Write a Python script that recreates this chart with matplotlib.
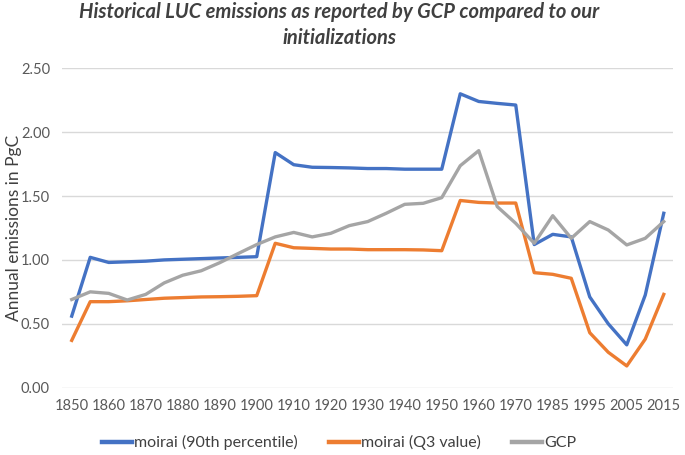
import matplotlib
matplotlib.use("Agg")
import matplotlib.pyplot as plt

# categories (one point every 5 years, one period missing in the source)
years = [1850, 1855, 1860, 1865, 1870, 1875, 1880, 1885, 1890, 1895,
         1900, 1905, 1910, 1915, 1920, 1925, 1930, 1935, 1940, 1945,
         1950, 1955, 1960, 1965, 1970, 1975, 1985, 1990, 1995, 2000,
         2005, 2010, 2015]

moirai_p90 = [0.56, 1.02, 0.98, 0.985, 0.99, 1.00, 1.005, 1.01, 1.015, 1.02,
              1.025, 1.84, 1.745, 1.725, 1.723, 1.72, 1.715, 1.715, 1.71, 1.71,
              1.71, 2.30, 2.24, 2.225, 2.212, 1.12, 1.20, 1.18, 0.71, 0.50,
              0.335, 0.725, 1.365]

moirai_q3 = [0.37, 0.673, 0.673, 0.68, 0.69, 0.70, 0.705, 0.71, 0.712, 0.715,
             0.72, 1.13, 1.095, 1.09, 1.085, 1.085, 1.08, 1.08, 1.08, 1.078,
             1.072, 1.465, 1.45, 1.445, 1.445, 0.90, 0.887, 0.856, 0.43, 0.277,
             0.17, 0.38, 0.73]

gcp = [0.69, 0.75, 0.738, 0.686, 0.73, 0.82, 0.88, 0.915, 0.978, 1.05,
       1.12, 1.18, 1.215, 1.18, 1.208, 1.268, 1.30, 1.365, 1.435, 1.443,
       1.487, 1.737, 1.855, 1.417, 1.286, 1.13, 1.346, 1.169, 1.30, 1.234,
       1.117, 1.169, 1.30]

tick_years = [1850, 1860, 1870, 1880, 1890, 1900, 1910, 1920, 1930, 1940,
              1950, 1960, 1970, 1985, 1995, 2005, 2015]

plt.rcParams['font.family'] = ['Lato', 'DejaVu Sans']

fig = plt.figure(figsize=(6.85, 4.55), dpi=100)
ax = fig.add_axes([0.0912, 0.148, 0.8913, 0.702])

x = list(range(len(years)))
ax.plot(x, moirai_p90, color='#4472C4', lw=2.4, label='moirai (90th percentile)', solid_joinstyle='round')
ax.plot(x, moirai_q3, color='#ED7D31', lw=2.4, label='moirai (Q3 value)', solid_joinstyle='round')
ax.plot(x, gcp, color='#A5A5A5', lw=2.4, label='GCP', solid_joinstyle='round')

ax.set_xlim(-0.5, len(years) - 0.5)
ax.set_ylim(0, 2.5)
ax.set_yticks([0, 0.5, 1.0, 1.5, 2.0, 2.5])
ax.set_yticklabels(['%.2f' % v for v in [0, 0.5, 1.0, 1.5, 2.0, 2.5]])
ax.set_xticks([years.index(y) for y in tick_years])
ax.set_xticklabels([str(y) for y in tick_years])
ax.tick_params(axis='both', length=0, labelsize=10.5, colors='#595959')
ax.tick_params(axis='x', pad=8)
ax.tick_params(axis='y', pad=9)
ax.grid(axis='y', color='#D9D9D9', lw=1)
ax.set_axisbelow(True)
for s in ax.spines.values():
    s.set_visible(False)

ax.set_ylabel('Annual emissions in PgC', fontsize=12.5, color='#404040')
ax.yaxis.set_label_coords(-0.066, 0.5)

fig.suptitle('Historical LUC emissions as reported by GCP compared to our\ninitializations',
             x=0.495, y=0.995, fontsize=14.5, fontweight='bold', fontstyle='italic',
             color='#404040', linespacing=1.35)

leg = fig.legend(loc='center', bbox_to_anchor=(0.495, 0.027), ncol=3, frameon=False,
                 fontsize=11.5, handlelength=1.9, columnspacing=1.9, handletextpad=0.15,
                 labelcolor='#404040')
for h in leg.get_lines():
    h.set_linewidth(3.2)

fig.savefig('out.png', dpi=100)
